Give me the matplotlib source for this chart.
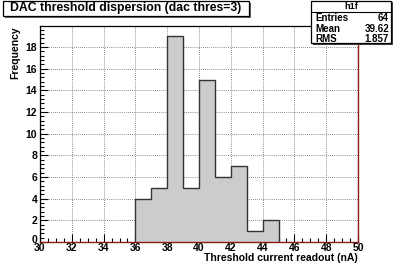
import numpy as np
import matplotlib.pyplot as plt
import matplotlib.transforms as mtransforms
from matplotlib.patches import Rectangle

# histogram data (1 nA bins)
bin_lo = [36, 37, 38, 39, 40, 41, 42, 43, 44]
counts = [4, 5, 19, 5, 15, 6, 7, 1, 2]
stats_names = ['Entries', 'Mean', 'RMS']
stats_vals = ['64', '39.62', '1.857']
title = 'DAC threshold dispersion (dac thres=3)'

plt.rcParams['font.family'] = 'Liberation Sans'
plt.rcParams['font.weight'] = 'bold'

fig = plt.figure(figsize=(3.99, 2.70), dpi=100)
ax = fig.add_axes([40/399, 1 - 242/270, 318/399, 216/270])

edges = np.append(bin_lo, bin_lo[-1] + 1)
ax.stairs(counts, edges, fill=True, facecolor='#cccccc', edgecolor='none', zorder=2)
ax.stairs(counts, edges, color='#333333', linewidth=1.0, baseline=0, zorder=3)

ax.set_xlim(30, 50)
ax.set_ylim(0, 19.95)
ax.set_xticks(np.arange(30, 51, 2))
ax.set_xticks(np.arange(30, 50.01, 0.5), minor=True)
ax.set_yticks(np.arange(0, 19, 2))
ax.set_yticks(np.arange(0, 19.95, 0.4), minor=True)
ax.tick_params(which='both', direction='in', labelsize=7.5, pad=2, width=0.8)
ax.tick_params(which='major', length=6)
ax.tick_params(which='minor', length=3)
ax.tick_params(axis='x', pad=1)
for lab in ax.get_xticklabels() + ax.get_yticklabels():
    lab.set_fontweight('bold')
# nudge the "0" label up like the original
ylabs = ax.get_yticklabels()
ylabs[0].set_transform(ylabs[0].get_transform() +
                       mtransforms.ScaledTranslation(0, 3/100, fig.dpi_scale_trans))
ax.grid(True, which='major', linestyle=(0, (1, 1.5)), color='#666666', linewidth=0.6)
ax.set_axisbelow(True)

for s in ['left', 'top']:
    ax.spines[s].set_color('black')
    ax.spines[s].set_linewidth(0.9)
for s in ['right', 'bottom']:
    ax.spines[s].set_color('#8b1a1a')
    ax.spines[s].set_linewidth(1.0)

ax.set_xlabel('Threshold current readout (nA)', fontsize=7.5, fontweight='bold',
              loc='right', labelpad=0)
ax.set_ylabel('Frequency', fontsize=7.5, fontweight='bold', loc='top', labelpad=4)

# title box
fig.patches.append(Rectangle((5/399, 1 - 18/270), 246/399, 15/270, transform=fig.transFigure,
                             facecolor='#666666', edgecolor='none'))
fig.patches.append(Rectangle((3/399, 1 - 16/270), 246/399, 15/270, transform=fig.transFigure,
                             facecolor='white', edgecolor='black', linewidth=0.9))
fig.text(126/399, 1 - 8.5/270, title, ha='center', va='center', fontsize=8.8, fontweight='bold')

# stats box
fig.patches.append(Rectangle((313/399, 1 - 45/270), 80/399, 43/270, transform=fig.transFigure,
                             facecolor='#444444', edgecolor='none'))
fig.patches.append(Rectangle((311/399, 1 - 43/270), 80/399, 42/270, transform=fig.transFigure,
                             facecolor='white', edgecolor='black', linewidth=0.9))
fig.add_artist(plt.Line2D([311/399, 391/399], [1 - 12/270, 1 - 12/270], color='black', linewidth=0.8))
fig.text(351/399, 1 - 6.5/270, 'h1f', ha='center', va='center', fontsize=6.5, fontweight='bold')
for i, (n, v) in enumerate(zip(stats_names, stats_vals)):
    y = 1 - (18 + i * 10.5) / 270
    fig.text(315/399, y, n, ha='left', va='center', fontsize=7, fontweight='bold')
    fig.text(389/399, y, v, ha='right', va='center', fontsize=7, fontweight='bold')

fig.savefig('out.png', dpi=100)
